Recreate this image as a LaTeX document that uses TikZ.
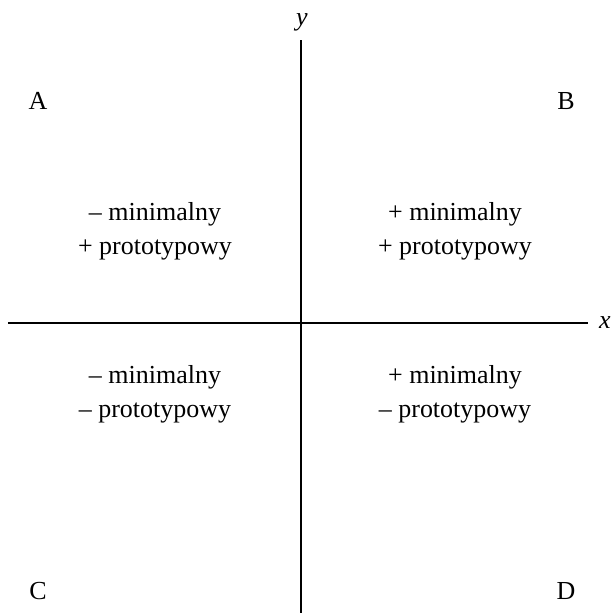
\documentclass[tikz,border=0pt]{standalone}
\usepackage{fontspec}
\setmainfont{Liberation Serif}
\usepackage{tikz}

\begin{document}
\begin{tikzpicture}[
    x=0.385pt,y=0.385pt,
    axis/.style={draw=black, line width=0.4pt},
    corner/.style={font=\fontsize{10}{13}\selectfont},
    quad/.style={font=\fontsize{10}{13}\selectfont, align=center},
    axlabel/.style={font=\fontsize{10}{13}\selectfont\itshape}
  ]
    \useasboundingbox (-301,-290) rectangle (311,323);

    % axes
    \coordinate (ytop) at (0,283);
    \coordinate (ybot) at (0,-290);
    \coordinate (xleft) at (-293,0);
    \coordinate (xright) at (287,0);
    \draw[axis] (ybot) -- (ytop);
    \draw[axis] (xleft) -- (xright);
    \node[axlabel] (ylab) at (1,301) {y};
    \node[axlabel] (xlab) at (304,0) {x};

    \node[corner] (A) at (-263,222) {A};
    \node[corner] (B) at (265,222) {B};
    \node[corner] (C) at (-263,-268) {C};
    \node[corner] (D) at (265,-268) {D};

    \node[quad] (qA) at (-146,92) {-- minimalny\\+ prototypowy};
    \node[quad] (qB) at (154,92) {+ minimalny\\+ prototypowy};
    \node[quad] (qC) at (-146,-71) {-- minimalny\\-- prototypowy};
    \node[quad] (qD) at (154,-71) {+ minimalny\\-- prototypowy};
  \end{tikzpicture}
\end{document}
